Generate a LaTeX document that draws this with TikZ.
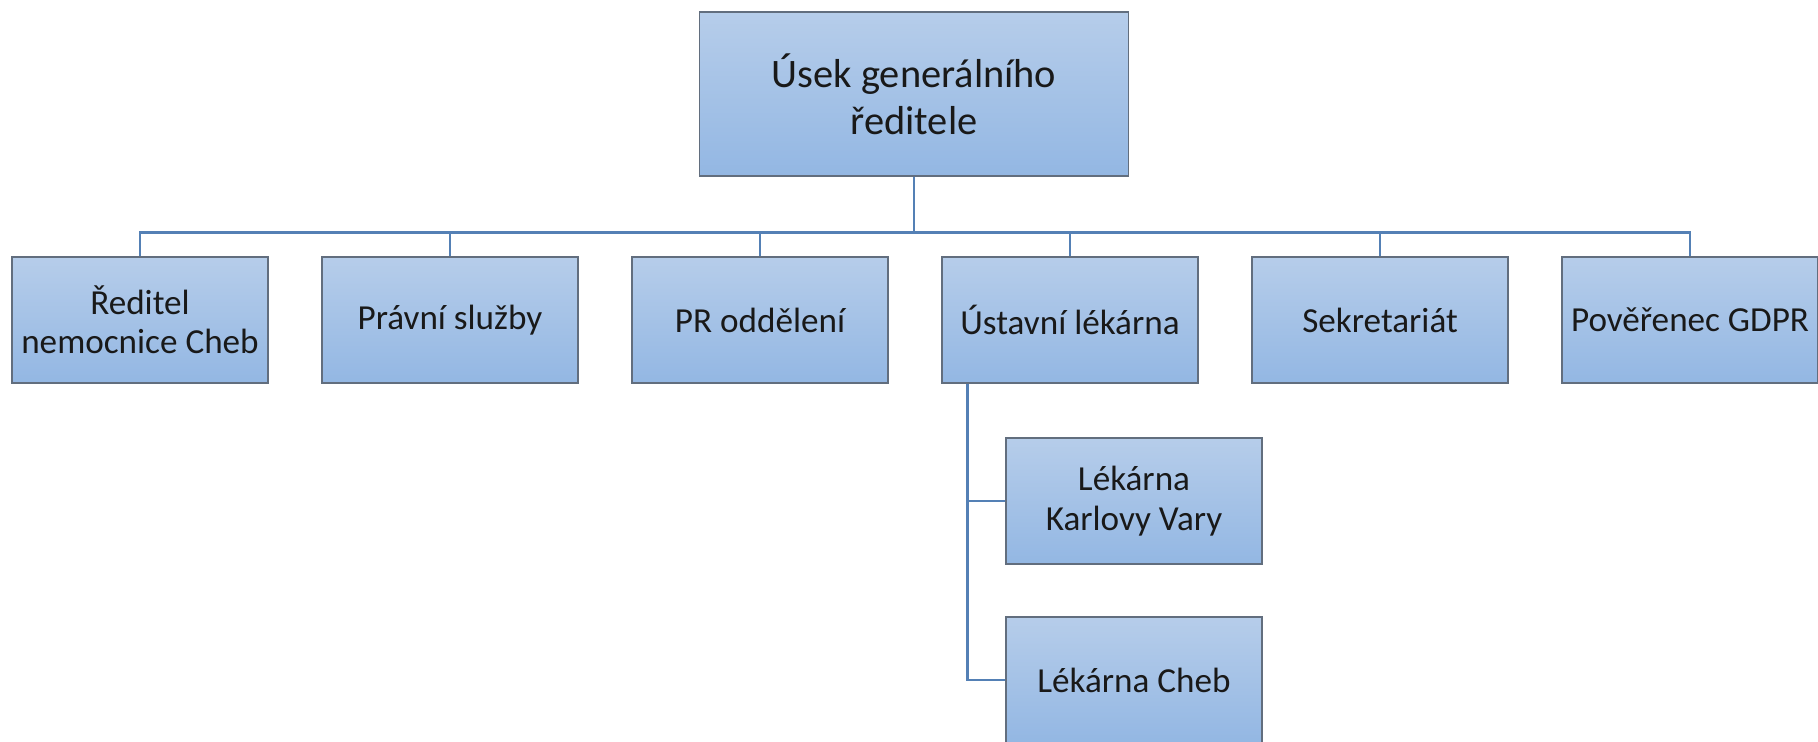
\documentclass[tikz,border=0pt]{standalone}
\usepackage{fontspec}
\setmainfont{Carlito}
\definecolor{boxtop}{RGB}{182,205,234}
\definecolor{boxbottom}{RGB}{147,183,227}
\definecolor{boxline}{RGB}{98,110,126}
\definecolor{linkline}{RGB}{84,128,181}
\begin{document}
\begin{tikzpicture}[
    node distance=6.2cm,
    block/.style={rectangle, draw=boxline, line width=0.8pt, top color=boxtop, bottom color=boxbottom, text=black!90, align=center, minimum width=5.12cm, minimum height=2.52cm, inner sep=2pt, font=\fontsize{20}{22.4}\selectfont},
    head/.style={block, minimum width=8.58cm, minimum height=3.28cm, font=\fontsize{23}{27}\selectfont},
    link/.style={draw=linkline, line width=1.6pt}
]
    \useasboundingbox (0,0) rectangle (36.36,-14.84);

    \node[head] (usek) at (18.28,-1.88) {Úsek generálního\\ředitele};

    \node[block] (reditel) at (2.8,-6.4) {Ředitel\\nemocnice Cheb};
    \node[block, right of=reditel] (pravni) {Právní služby};
    \node[block, right of=pravni] (proddeleni) {PR oddělení};
    \node[block, right of=proddeleni] (lekarna) {Ústavní lékárna};
    \node[block, right of=lekarna] (sekretariat) {Sekretariát};
    \node[block, right of=sekretariat] (gdpr) {Pověřenec GDPR};

    \node[block] (karlovy) at (22.68,-10.02) {Lékárna\\Karlovy Vary};
    \node[block] (cheb) at (22.68,-13.6) {Lékárna Cheb};

    \foreach \n in {reditel,pravni,proddeleni,lekarna,sekretariat,gdpr}
        \draw[link] (usek.south) -- ++(0,-1.12) -| (\n.north);

    \draw[link] ([xshift=0.52cm]lekarna.south west) |- (karlovy.west);
    \draw[link] ([xshift=0.52cm]lekarna.south west) |- (cheb.west);
\end{tikzpicture}
\end{document}
